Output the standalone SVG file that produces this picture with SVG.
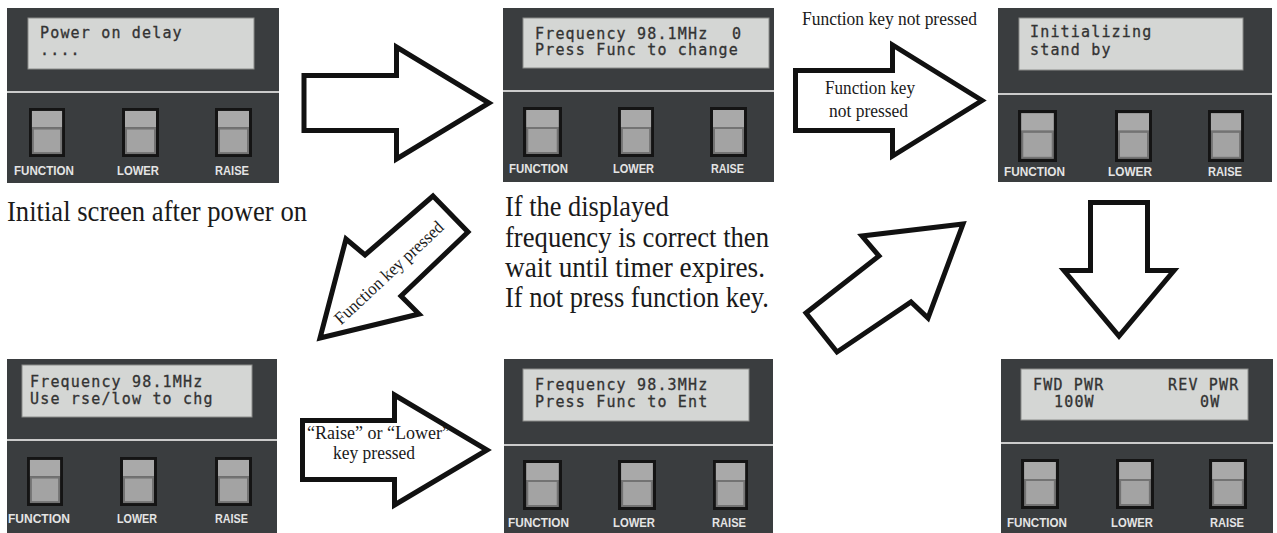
<svg xmlns="http://www.w3.org/2000/svg" width="1277" height="533" viewBox="0 0 1277 533">
<defs>
<style>
.panel{fill:#3a3d3f}
.lcd{fill:#d4d6d4;stroke:#8a8c8a;stroke-width:1}
.div{stroke:#cbcbcb;stroke-width:2}
.lcdt{font-family:"DejaVu Sans Mono","Liberation Mono",monospace;font-size:15px;letter-spacing:1.17px;fill:#333;stroke:#333;stroke-width:0.3}
.lbl{font-family:"Liberation Sans",Arial,sans-serif;font-weight:bold;font-size:12.5px;fill:#e4e4e4;text-anchor:middle}
.arrow{fill:#fff;stroke:#111;stroke-width:5;stroke-linejoin:miter;stroke-miterlimit:10}
.cap{font-family:"Liberation Serif","Times New Roman",serif;fill:#1a1a1a}
.big{font-size:28.5px}
.sm{font-size:18px;text-anchor:middle}
</style>
<symbol id="btn" viewBox="0 0 37 50" preserveAspectRatio="none">
<rect width="37" height="50" fill="#141414"/>
<rect x="3" y="3" width="31" height="17" fill="#a9a9a9"/>
<rect x="3" y="20" width="31" height="27" fill="#737373"/>
<rect x="5" y="22" width="27" height="23" fill="#a3a3a3"/>
</symbol>
</defs>
<rect width="1277" height="533" fill="#fff"/>

<g id="screen-power-on">
<rect class="panel" x="7" y="8" width="272" height="175"/>
<rect class="lcd" x="28" y="18" width="226" height="51"/>
<text class="lcdt" x="40" y="38">Power on delay</text>
<text class="lcdt" x="40" y="55">....</text>
<line class="div" x1="7" y1="92" x2="279" y2="92"/>
<use href="#btn" x="29" y="108" width="36" height="49"/>
<use href="#btn" x="122" y="108" width="37" height="49"/>
<use href="#btn" x="215" y="108" width="37" height="49"/>
<text class="lbl" x="44" y="175" textLength="60" lengthAdjust="spacingAndGlyphs">FUNCTION</text>
<text class="lbl" x="138" y="175" textLength="42" lengthAdjust="spacingAndGlyphs">LOWER</text>
<text class="lbl" x="232" y="175" textLength="34" lengthAdjust="spacingAndGlyphs">RAISE</text>
</g>

<g id="screen-frequency">
<rect class="panel" x="503" y="8" width="271" height="174"/>
<rect class="lcd" x="523" y="18" width="246" height="50"/>
<text class="lcdt" x="535" y="39">Frequency 98.1MHz</text>
<text class="lcdt" x="732" y="39">0</text>
<text class="lcdt" x="535" y="55">Press Func to change</text>
<line class="div" x1="503" y1="91" x2="774" y2="91"/>
<use href="#btn" x="523" y="107" width="39" height="50"/>
<use href="#btn" x="618" y="107" width="36" height="50"/>
<use href="#btn" x="710" y="107" width="37" height="50"/>
<text class="lbl" x="538.5" y="173" textLength="59" lengthAdjust="spacingAndGlyphs">FUNCTION</text>
<text class="lbl" x="633.5" y="173" textLength="41" lengthAdjust="spacingAndGlyphs">LOWER</text>
<text class="lbl" x="727.5" y="173" textLength="33" lengthAdjust="spacingAndGlyphs">RAISE</text>
</g>

<g id="screen-initializing">
<rect class="panel" x="998" y="8" width="274" height="174"/>
<rect class="lcd" x="1019" y="18" width="224" height="52"/>
<text class="lcdt" x="1030" y="37">Initializing</text>
<text class="lcdt" x="1030" y="55">stand by</text>
<line class="div" x1="998" y1="94" x2="1272" y2="94"/>
<use href="#btn" x="1018" y="110" width="39" height="52"/>
<use href="#btn" x="1115" y="110" width="37" height="52"/>
<use href="#btn" x="1208" y="110" width="36" height="52"/>
<text class="lbl" x="1034.5" y="176" textLength="61" lengthAdjust="spacingAndGlyphs">FUNCTION</text>
<text class="lbl" x="1130" y="176" textLength="44" lengthAdjust="spacingAndGlyphs">LOWER</text>
<text class="lbl" x="1225" y="176" textLength="34" lengthAdjust="spacingAndGlyphs">RAISE</text>
</g>

<g id="screen-use-raise-lower">
<rect class="panel" x="7" y="359" width="270" height="174"/>
<rect class="lcd" x="22" y="365" width="230" height="52"/>
<text class="lcdt" x="30" y="387">Frequency 98.1MHz</text>
<text class="lcdt" x="30" y="404">Use rse/low to chg</text>
<line class="div" x1="7" y1="440" x2="277" y2="440"/>
<use href="#btn" x="27" y="457" width="36" height="49"/>
<use href="#btn" x="120" y="457" width="37" height="49"/>
<use href="#btn" x="215" y="457" width="37" height="49"/>
<text class="lbl" x="39" y="523" textLength="62" lengthAdjust="spacingAndGlyphs">FUNCTION</text>
<text class="lbl" x="137" y="523" textLength="40" lengthAdjust="spacingAndGlyphs">LOWER</text>
<text class="lbl" x="231.5" y="523" textLength="33" lengthAdjust="spacingAndGlyphs">RAISE</text>
</g>

<g id="screen-new-frequency">
<rect class="panel" x="504" y="359" width="269" height="174"/>
<rect class="lcd" x="523" y="369" width="226" height="52"/>
<text class="lcdt" x="535" y="390">Frequency 98.3MHz</text>
<text class="lcdt" x="535" y="407">Press Func to Ent</text>
<line class="div" x1="504" y1="445" x2="773" y2="445"/>
<use href="#btn" x="523" y="460" width="39" height="50"/>
<use href="#btn" x="618" y="460" width="38" height="50"/>
<use href="#btn" x="713" y="460" width="35" height="50"/>
<text class="lbl" x="538.5" y="527" textLength="61" lengthAdjust="spacingAndGlyphs">FUNCTION</text>
<text class="lbl" x="634" y="527" textLength="42" lengthAdjust="spacingAndGlyphs">LOWER</text>
<text class="lbl" x="729" y="527" textLength="34" lengthAdjust="spacingAndGlyphs">RAISE</text>
</g>

<g id="screen-power">
<rect class="panel" x="1001" y="359" width="272" height="174"/>
<rect class="lcd" x="1021" y="369" width="227" height="51"/>
<text class="lcdt" x="1033" y="390">FWD PWR</text>
<text class="lcdt" x="1168" y="390">REV PWR</text>
<text class="lcdt" x="1054" y="407">100W</text>
<text class="lcdt" x="1200" y="407">0W</text>
<line class="div" x1="1001" y1="443" x2="1273" y2="443"/>
<use href="#btn" x="1021" y="459" width="38" height="50"/>
<use href="#btn" x="1116" y="459" width="38" height="50"/>
<use href="#btn" x="1209" y="459" width="38" height="50"/>
<text class="lbl" x="1037" y="527" textLength="60" lengthAdjust="spacingAndGlyphs">FUNCTION</text>
<text class="lbl" x="1132" y="527" textLength="42" lengthAdjust="spacingAndGlyphs">LOWER</text>
<text class="lbl" x="1227" y="527" textLength="34" lengthAdjust="spacingAndGlyphs">RAISE</text>
</g>

<g id="captions">
<text class="cap big" x="7" y="221" textLength="300" lengthAdjust="spacingAndGlyphs">Initial screen after power on</text>
<text class="cap big" x="505" y="216" textLength="164" lengthAdjust="spacingAndGlyphs">If the displayed</text>
<text class="cap big" x="505" y="247" textLength="264" lengthAdjust="spacingAndGlyphs">frequency is correct then</text>
<text class="cap big" x="505" y="277" textLength="260" lengthAdjust="spacingAndGlyphs">wait until timer expires.</text>
<text class="cap big" x="505" y="307" textLength="264" lengthAdjust="spacingAndGlyphs">If not press function key.</text>
<text class="cap" x="802" y="25" font-size="18" textLength="175" lengthAdjust="spacingAndGlyphs">Function key not pressed</text>
</g>

<g id="connectors">
<path class="arrow" d="M304,75.5 H396.5 V47 L489,103 L396.5,159 V130.5 H304 Z"/>
<path class="arrow" d="M795.5,70.5 H892.5 V45 L982,100.5 L892.5,156 V130.5 H795.5 Z"/>
<path class="arrow" d="M433,196 L468,232 L401,296 L419,314 L320,338 L346,239 L365,255 Z"/>
<path class="arrow" d="M806,313 L837,352 L911,302 L928,318 L963,224 L862,236 L879,256 Z"/>
<path class="arrow" d="M1090.5,202.5 V270.5 H1064 L1119,336 L1174,270.5 H1147.5 V202.5 Z"/>
<path class="arrow" d="M302.5,420.5 H394.5 V395 L487,450 L394.5,505 V479.5 H302.5 Z"/>
<text class="cap sm" x="870" y="94" textLength="90" lengthAdjust="spacingAndGlyphs">Function key</text>
<text class="cap sm" x="868.5" y="117" textLength="79" lengthAdjust="spacingAndGlyphs">not pressed</text>
<text class="cap sm" transform="translate(393,277) rotate(-43)" textLength="142" lengthAdjust="spacingAndGlyphs">Function key pressed</text>
<text class="cap sm" x="378.5" y="439" textLength="143" lengthAdjust="spacingAndGlyphs">“Raise” or “Lower”</text>
<text class="cap sm" x="374" y="459" textLength="82" lengthAdjust="spacingAndGlyphs">key pressed</text>
</g>
</svg>
